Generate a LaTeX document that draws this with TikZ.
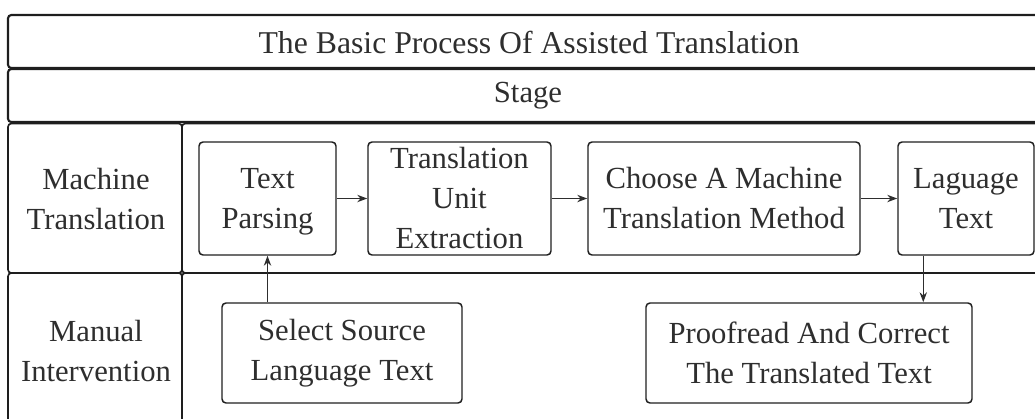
\documentclass[tikz,border=0pt]{standalone}
\usepackage{fontspec}
\setmainfont{Liberation Serif}
\usetikzlibrary{calc,arrows.meta}
\definecolor{ink}{HTML}{2E2E2E}
\definecolor{rule}{HTML}{1E1E1E}
\tikzset{
  frame/.style={draw=rule, line width=1.6pt, rounded corners=2.5pt},
  cell/.style={draw=rule, line width=1.2pt, rounded corners=2.5pt},
  procbox/.style={draw=rule, line width=1.1pt, rounded corners=3pt, inner sep=0pt,
    align=center, text=ink, font=\fontsize{23}{30}\selectfont},
  label/.style={align=center, text=ink, font=\fontsize{23}{29.5}\selectfont, inner sep=0pt},
  flow/.style={draw=ink, line width=1.1pt, -{Stealth[length=7.5pt,width=5.5pt]}}
}
\begin{document}
\begin{tikzpicture}[x=0.75pt,y=-0.75pt]
\useasboundingbox (0,0) rectangle (1035,418);
\clip (0,0) rectangle (1035,418);

% header rows
\draw[frame] (8,15) rectangle (1050,68);
\draw[frame] (8,69) rectangle (1050,122);
% stage rows: label column and content column
\draw[cell] (8,123.5) rectangle (182,273);
\draw[cell] (8,273) rectangle (182,440);
\draw[cell] (182,123.5) rectangle (1050,273);
\draw[cell] (182,273) rectangle (1050,440);

\node[label, font=\fontsize{23.8}{29.5}\selectfont] (title) at (529,42) {The Basic Process Of Assisted Translation};
\node[label] (stage) at (528,96) {Stage};
\node[label] (mt) at (96,199) {Machine\\Translation};
\node[label] (mi) at (96,351) {Manual\\Intervention};

% machine translation steps
\node[procbox, minimum width=102.75pt, minimum height=84.75pt] (tp) at (267.5,198.5) {};
\node[label, font=\fontsize{23}{30}\selectfont] (tptext) at ($(tp.center)+(0,3)$) {Text\\Parsing};
\node[procbox, minimum width=137.25pt, minimum height=84.75pt] (tue) at (459.5,198.5) {Translation\\Unit\\Extraction};
\node[procbox, minimum width=204pt, minimum height=84.75pt] (cm) at (724,198.5) {Choose A Machine\\Translation Method};
\node[procbox, minimum width=102pt, minimum height=84.75pt] (lt) at (966,198.5) {Laguage\\Text};

% manual steps
\node[procbox, minimum width=180pt, minimum height=75pt] (src) at (342,353) {Select Source\\Language Text};
\node[procbox, minimum width=244.5pt, minimum height=75pt] (pf) at (809,353) {Proofread And Correct\\The Translated Text};

% connectors
\draw[flow] (tp) -- (tue);
\draw[flow] (tue) -- (cm);
\draw[flow] (cm) -- (lt);
\draw[flow] (src.north -| tp.south) -- (tp.south);
\coordinate (ltout) at ($(lt.south west)+(26,0)$);
\draw[flow] (ltout) -- (ltout |- pf.north);
\end{tikzpicture}
\end{document}
